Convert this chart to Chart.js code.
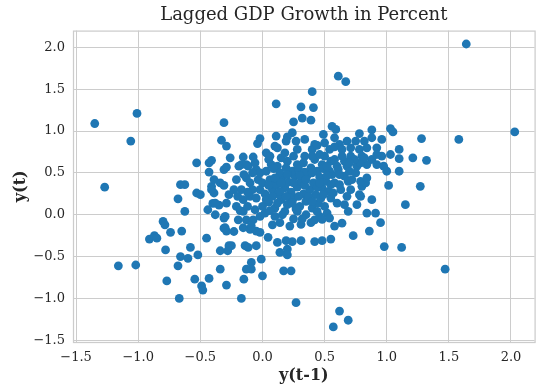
<!DOCTYPE html>
<html lang="en">
<head>
  <meta charset="UTF-8">
  <title>Lagged GDP Growth in Percent</title>
  <style>
    body {
      margin: 0;
      background: white;
    }
    #wrap {
      width: 539px;
      height: 388px;
    }
  </style>
  <script src="https://cdn.jsdelivr.net/npm/chart.js@4"></script>
</head>
<body>
  <div id="wrap"><canvas id="lagChart" width="539" height="388"></canvas></div>

  <script>
    // y(t-1) values
    const lagX = [
      -1.35, -1.01, -1.06, -1.27, -1.16, -1.02, 1.64, 2.03, 1.58, 1.28,
      1.10, 1.10, 1.21, 1.32, 1.10, 1.27, 1.15, 1.12, 1.47, 0.27,
      0.62, 0.69, 0.57, 0.98, 0.17, 0.23, 0.00, -0.01, -0.09, -0.09,
      0.14, 0.20, 0.20, 0.12, -0.05, 0.24, 0.31, 0.42, 0.48, 0.55,
      -0.31, -0.33, -0.29, -0.53, -0.43, -0.41, -0.43, -0.26, -0.155, -0.075,
      -0.04, -0.31, -0.29, -0.19, -0.17, -0.66, -0.625, -0.68, -0.625, -0.53,
      -0.50, -0.80, -0.785, -0.74, -0.65, -0.91, -0.87, -0.85, -0.78, -0.58,
      -0.66, -0.60, -0.52, -0.68, -0.77, -0.545, -0.49, -0.48, -0.67, -0.43,
      -0.34, -0.29, -0.15, -0.17, -0.45, -0.34, -0.28, -0.25, -0.31, -0.29,
      -0.23, -0.44, -0.38, -0.40, -0.35, -0.41, -0.39, -0.34, -0.31, -0.31,
      -0.13, -0.14, -0.39, -0.21, -0.13, -0.41, -0.38, -0.29, -0.30, -0.27,
      -0.23, -0.21, -0.155, -0.195, -0.30, -0.27, -0.115, -0.155, -0.10, -0.05,
      -0.13, -0.075, -0.02, -0.155, -0.10, -0.05, -0.02, -0.10, -0.035, -0.05,
      -0.02, -0.13, 1.015, 0.88, 0.95, 0.84, 0.91, 0.86, 0.73, 0.64,
      0.58, 0.69, 0.76, 0.79, 0.80, 0.83, 1.00, 0.46, 0.52, -0.02,
      0.045, 0.19, -0.09, 0.02, 0.10, 0.18, 0.28, 0.35, 0.42, 0.14,
      0.22, 0.31, 0.39, 0.48, 0.61, 0.67, 0.40, 0.11, 0.31, 0.41,
      0.32, 0.39, 0.25, 0.56, 0.59, 0.49, 0.78, 0.88, 1.03, 1.05,
      0.96, -0.02, 0.11, 0.24, 0.20, 0.34, 0.27, 0.42, 0.50, 0.58,
      0.62, 0.68, 0.75, 0.82, 0.88, 0.84, 0.92, 0.03, 0.10, 0.12,
      0.19, 0.28, 0.40, 0.44, 0.54, 0.58, 0.64, 0.71, 0.78, 0.80,
      0.96, 0.88, 0.71, -0.115, -0.06, 0.07, 0.12, 0.20, 0.28, 0.34,
      0.42, 0.48, 0.55, 0.60, 0.68, 0.76, 0.84, 0.92, 0.975, 0.79,
      0.84, 0.78, 0.68, 0.71, 0.92, 1.03, 0.79, 0.82, 0.74, 0.58,
      0.63, 0.66, 0.60, 0.66,
      0.00, 0.05, 0.10, 0.15, 0.20, 0.25, 0.30, 0.35, 0.40, 0.45, 0.50, 0.55,
      0.02, 0.08, 0.13, 0.18, 0.23, 0.28, 0.33, 0.38, 0.43, 0.48, 0.53,
      0.00, 0.06, 0.11, 0.16, 0.21, 0.26, 0.31, 0.36, 0.41, 0.46, 0.51, 0.56,
      0.03, 0.09, 0.14, 0.19, 0.24, 0.29, 0.34, 0.39, 0.44, 0.49, 0.54, 0.61,
      0.22, 0.27, 0.12, 0.37, 0.47, 0.62, 0.70, 0.66, 0.72, 0.58, 0.15, 0.25, 0.05, 0.40, 0.50,
      -0.18, -0.12, -0.06, -0.17, -0.08, -0.15, -0.08, -0.20, -0.12,
      0.03, 0.08, 0.14, 0.19, 0.24, 0.29, 0.34, 0.40, 0.44, 0.49, 0.55,
      0.05, 0.10, 0.15, 0.20, 0.25, 0.30, 0.35, 0.40, 0.46, 0.52, 0.57,
      0.06, 0.16, 0.32, 0.44, 0.54, 0.25, 0.08,
      0.06, 0.18, 0.33, 0.46, 0.52, 0.64, 0.62, 0.70, 0.75, 0.69
    ];

    // y(t) values, same order
    const lagY = [
      1.09, 1.21, 0.88, 0.33, -0.61, -0.60, 2.04, 0.99, 0.90, 0.91,
      0.78, 0.67, 0.68, 0.65, 0.52, 0.34, 0.12, -0.39, -0.65, -1.05,
      -1.15, -1.26, -1.34, -0.38, -0.67, -0.67, -0.73, -0.53, -0.57, -0.65,
      -0.45, -0.41, -0.48, -0.33, -0.37, -0.32, -0.31, -0.32, -0.31, -0.29,
      1.10, 0.89, 0.82, 0.62, 0.62, 0.65, 0.51, 0.68, 0.69, 0.69,
      0.85, 0.54, 0.57, 0.58, 0.60, 0.36, 0.36, 0.19, 0.04, 0.26,
      0.24, -0.08, -0.12, -0.21, -0.195, -0.29, -0.25, -0.28, -0.42, -0.39,
      -0.50, -0.52, -0.48, -0.61, -0.79, -0.77, -0.85, -0.90, -1.00, -0.76,
      -0.65, -0.84, -0.77, -1.00, -0.28, -0.43, -0.43, -0.37, -0.16, -0.195,
      -0.20, 0.06, 0.00, 0.135, 0.115, 0.34, 0.26, 0.38, 0.35, -0.04,
      -0.65, -0.37, 0.42, 0.42, 0.44, 0.30, 0.14, 0.14, -0.02, 0.24,
      0.30, 0.10, 0.04, -0.06, -0.155, -0.37, -0.39, -0.155, -0.175, -0.195,
      -0.06, -0.06, -0.02, 0.18, 0.22, 0.20, 0.30, 0.38, 0.42, 0.54,
      0.50, 0.60, 0.35, 0.18, -0.095, 0.02, 0.02, -0.195, -0.25, -0.10,
      -0.135, 0.04, 0.12, 0.22, 0.34, 0.38, 0.52, -0.02, 0.02, -0.21,
      -0.27, -0.31, -0.135, 0.02, -0.02, 0.04, 0.04, 0.00, -0.06, -0.095,
      -0.135, -0.115, -0.095, -0.056, 1.655, 1.59, 1.47, 1.325, 1.29, 1.28,
      1.155, 1.13, 1.11, 1.055, 1.02, 0.96, 0.97, 1.015, 1.03, 0.99,
      0.90, 0.91, 0.94, 0.98, 0.93, 0.90, 0.88, 0.84, 0.86, 0.92,
      0.84, 0.88, 0.88, 0.88, 0.92, 0.80, 0.80, 0.74, 0.82, 0.80,
      0.88, 0.78, 0.78, 0.83, 0.78, 0.81, 0.78, 0.80, 0.78, 0.70,
      0.70, 0.66, 0.70, 0.58, 0.62, 0.60, 0.58, 0.64, 0.60, 0.70,
      0.66, 0.60, 0.64, 0.58, 0.58, 0.58, 0.60, 0.60, 0.58, 0.40,
      0.44, 0.24, 0.22, 0.30, 0.72, 0.72, 0.62, 0.68, 0.66, 0.38,
      0.30, 0.46, 0.14, 0.12,
      0.10, 0.15, 0.08, 0.18, 0.12, 0.20, 0.10, 0.16, 0.08, 0.14, 0.10, 0.20,
      0.25, 0.30, 0.24, 0.32, 0.27, 0.33, 0.25, 0.30, 0.24, 0.32, 0.28,
      0.38, 0.42, 0.36, 0.45, 0.39, 0.46, 0.40, 0.47, 0.38, 0.45, 0.40, 0.48,
      0.52, 0.55, 0.50, 0.56, 0.52, 0.55, 0.51, 0.56, 0.52, 0.55, 0.52, 0.54,
      0.20, 0.07, 0.14, 0.22, 0.20, 0.36, 0.52, 0.64, 0.42, 0.66, 0.68, 0.70, 0.66, 0.70, 0.70,
      0.05, 0.10, 0.06, 0.30, 0.30, 0.48, 0.50, 0.22, 0.27,
      0.18, 0.22, 0.28, 0.22, 0.14, 0.22, 0.35, 0.16, 0.33, 0.24, 0.36,
      0.35, 0.44, 0.38, 0.48, 0.38, 0.47, 0.42, 0.50, 0.38, 0.47, 0.26,
      0.05, 0.00, -0.05, 0.04, -0.04, -0.05, -0.12,
      0.70, 0.74, 0.62, 0.72, 0.58, 0.70, 0.48, 0.62, 0.50, 0.40
    ];

    const xTicks = [-1.5, -1.0, -0.5, 0.0, 0.5, 1.0, 1.5, 2.0];
    const yTicks = [-1.5, -1.0, -0.5, 0.0, 0.5, 1.0, 1.5, 2.0];

    const textColor = '#262626';
    const gridColor = '#cccccc';
    const fmt = v => (v < 0 ? '\u2212' : '') + Math.abs(v).toFixed(1);

    Chart.defaults.font.family = "'DejaVu Serif', serif";

    // light grey frame round the plot, like the seaborn spines
    const spines = {
      id: 'spines',
      beforeDatasetsDraw(chart) {
        const { ctx, chartArea: a } = chart;
        ctx.save();
        ctx.strokeStyle = gridColor;
        ctx.lineWidth = 1.25;
        ctx.strokeRect(a.left + 0.5, a.top + 0.5, a.right - a.left, a.bottom - a.top);
        ctx.restore();
      }
    };

    const ctx = document.getElementById('lagChart').getContext('2d');
    const lagChart = new Chart(ctx, {
      type: 'scatter',
      data: {
        datasets: [{
          data: lagX.map((x, i) => ({ x: x, y: lagY[i] })),
          backgroundColor: '#1f77b4',
          borderColor: '#1f77b4',
          pointRadius: 4.4,
          pointBorderWidth: 0
        }]
      },
      options: {
        responsive: false,
        animation: false,
        devicePixelRatio: 1,
        layout: { padding: 0 },
        scales: {
          x: {
            type: 'linear',
            min: -1.525,
            max: 2.19,
            afterBuildTicks: s => { s.ticks = xTicks.map(v => ({ value: v })); },
            afterFit: s => { s.height = 46; },
            grid: { color: gridColor, drawTicks: false },
            border: { display: false },
            ticks: { color: textColor, font: { size: 13 }, padding: 8, maxRotation: 0, callback: fmt },
            title: {
              display: true,
              text: 'y(t-1)',
              color: textColor,
              font: { size: 16, weight: 'bold' },
              padding: { top: 0, bottom: 3 }
            }
          },
          y: {
            type: 'linear',
            min: -1.52,
            max: 2.2,
            afterBuildTicks: s => { s.ticks = yTicks.map(v => ({ value: v })); },
            afterFit: s => { s.width = 73; },
            grid: { color: gridColor, drawTicks: false },
            border: { display: false },
            ticks: { color: textColor, font: { size: 13 }, padding: 8, callback: fmt },
            title: {
              display: true,
              text: 'y(t)',
              color: textColor,
              font: { size: 16, weight: 'bold' },
              padding: { top: 11, bottom: 0 }
            }
          }
        },
        plugins: {
          legend: { display: false },
          tooltip: { enabled: false },
          title: {
            display: true,
            text: 'Lagged GDP Growth in Percent',
            fullSize: false,
            color: textColor,
            font: { size: 18, weight: 'normal' },
            padding: { top: 5, bottom: 4 }
          }
        }
      },
      plugins: [spines]
    });
  </script>
</body>
</html>
